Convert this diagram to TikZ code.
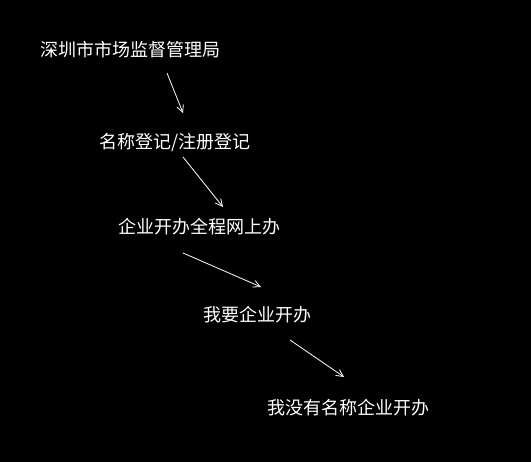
\documentclass[tikz,border=0pt]{standalone}
\usepackage{fontspec}
\newfontfamily\cjk{Noto Sans CJK SC}
\usetikzlibrary{arrows.meta}

\begin{document}
\begin{tikzpicture}[x=1pt, y=-1pt,
    step label/.style={anchor=west, inner sep=0pt, text=white, font=\cjk\fontsize{18pt}{18pt}\selectfont},
    flow/.style={draw=white, line width=0.8pt, -{Straight Barb[length=7pt,width=7pt]}}]
	\fill[black] (0,0) rectangle (531,462);
	\useasboundingbox (0,0) rectangle (531,462);
    \node [step label] (bureau) at (40,50) {深圳市市场监督管理局};
    \node [step label] (register) at (99,143) {名称登记/注册登记};
	\node [step label] (online) at (118,227) {企业开办全程网上办};
    \node [step label] (start) at (203,315) {我要企业开办};
    \node [step label] (noname) at (267,408) {我没有名称企业开办};

    \draw [flow] ([xshift=127pt,yshift=-23pt]bureau.west) -- ([xshift=84pt,yshift=30pt]register.west);
    \draw [flow] ([xshift=84pt,yshift=-14pt]register.west) -- ([xshift=105pt,yshift=20pt]online.west);
    \draw [flow] ([xshift=65pt,yshift=-26pt]online.west) -- ([xshift=58pt,yshift=28pt]start.west);
    \draw [flow] ([xshift=87pt,yshift=-25pt]start.west) -- ([xshift=77pt,yshift=31pt]noname.west);

\end{tikzpicture}
\end{document}
